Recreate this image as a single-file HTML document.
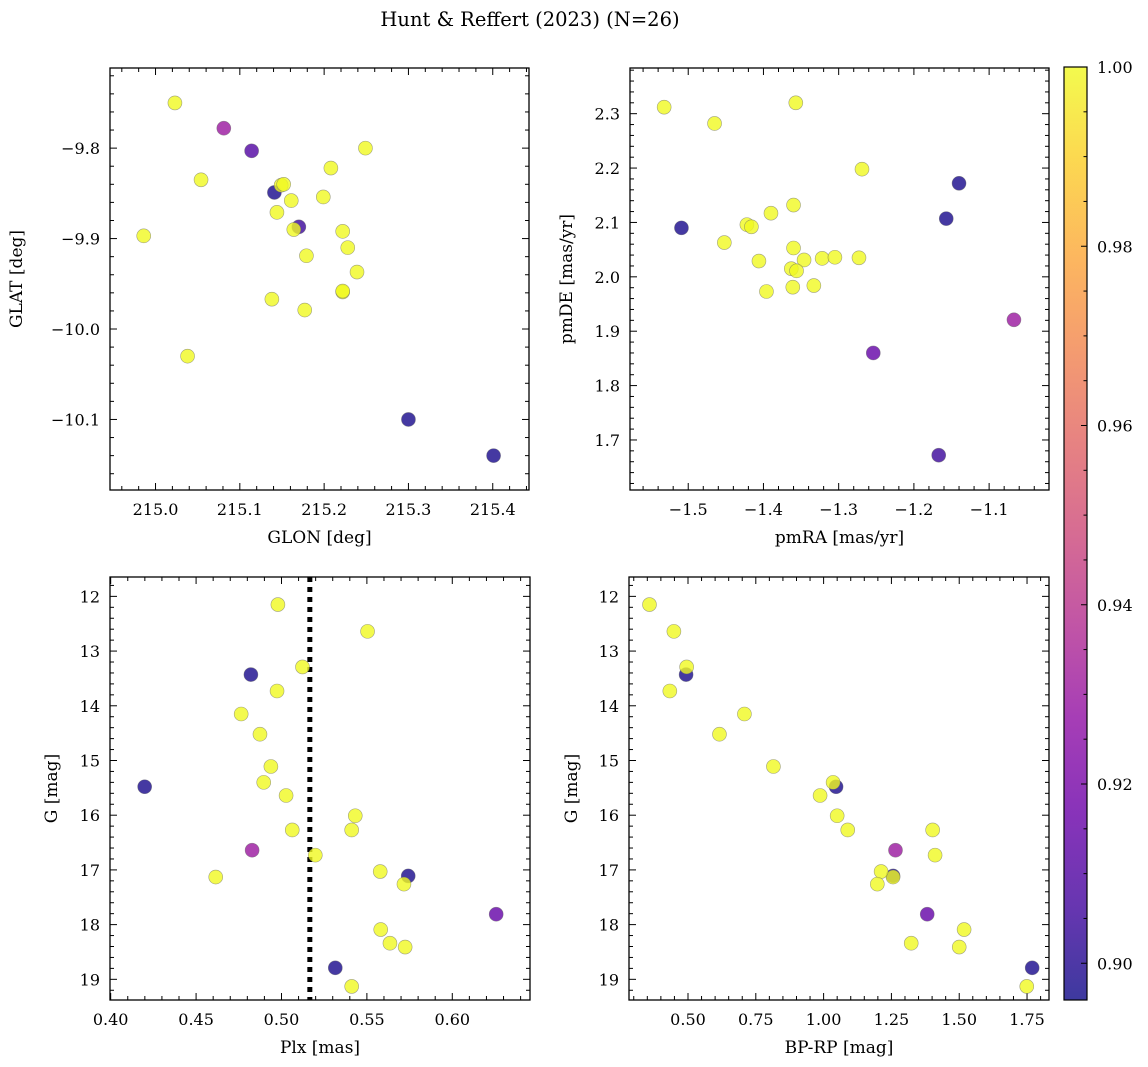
<!DOCTYPE html>
<html><head><meta charset="utf-8"><style>
html,body{margin:0;padding:0;background:#fff}
svg{display:block;font-family:"DejaVu Serif","Liberation Serif",serif}
</style></head><body>
<svg id="fig" width="1148" height="1067" viewBox="0 0 1148 1067" xmlns="http://www.w3.org/2000/svg">
<defs>
<linearGradient id="plasma" x1="0" y1="1" x2="0" y2="0">
<stop offset="0" stop-color="#0d0887"/><stop offset="0.1" stop-color="#41049d"/><stop offset="0.2" stop-color="#6a00a8"/><stop offset="0.3" stop-color="#8f0da4"/><stop offset="0.4" stop-color="#b12a90"/><stop offset="0.5" stop-color="#cc4778"/><stop offset="0.6" stop-color="#e16462"/><stop offset="0.7" stop-color="#f2844b"/><stop offset="0.8" stop-color="#fca636"/><stop offset="0.9" stop-color="#fcce25"/><stop offset="1" stop-color="#f0f921"/>
</linearGradient>
</defs>
<text x="530" y="26" font-size="19.5" text-anchor="middle">Hunt &amp; Reffert (2023) (N=26)</text>
</svg>
<script>
// Panel 1: sky positions
const glon = [215.023,215.081,215.114,215.054,215.141,215.149,215.152,215.161,215.208,215.249,215.199,215.144,215.170,215.164,214.986,215.222,215.228,215.179,215.239,215.222,215.222,215.138,215.177,215.038,215.300,215.401];
const glat = [-9.750,-9.778,-9.803,-9.835,-9.849,-9.841,-9.840,-9.858,-9.822,-9.800,-9.854,-9.871,-9.887,-9.890,-9.897,-9.892,-9.910,-9.919,-9.937,-9.959,-9.958,-9.967,-9.979,-10.030,-10.100,-10.140];
const probSky = [1,0.93,0.91,1,0.898,1,1,1,1,1,1,1,0.905,1,1,1,1,1,1,1,1,1,1,1,0.898,0.898];
// Panel 2: proper motions
const pmra = [-1.532,-1.357,-1.465,-1.269,-1.140,-1.157,-1.509,-1.360,-1.390,-1.422,-1.416,-1.452,-1.360,-1.406,-1.346,-1.322,-1.305,-1.273,-1.363,-1.356,-1.396,-1.361,-1.333,-1.067,-1.254,-1.167];
const pmde = [2.312,2.320,2.282,2.198,2.172,2.107,2.090,2.132,2.117,2.096,2.092,2.063,2.053,2.029,2.031,2.034,2.036,2.035,2.015,2.011,1.973,1.981,1.984,1.921,1.860,1.672];
const probPm = [1,1,1,1,0.898,0.898,0.898,1,1,1,1,1,1,1,1,1,1,1,1,1,1,1,1,0.93,0.915,0.905];
// Panels 3/4: parallax, magnitude, colour
const plx = [0.4979,0.5504,0.5123,0.4821,0.4974,0.4764,0.4874,0.4938,0.4199,0.4896,0.5027,0.5432,0.5063,0.5411,0.4828,0.5198,0.4615,0.5578,0.5742,0.5717,0.6257,0.5581,0.5635,0.5724,0.5315,0.5411];
const gmag = [12.15,12.64,13.29,13.43,13.73,14.15,14.52,15.11,15.48,15.40,15.64,16.01,16.27,16.27,16.64,16.73,17.13,17.03,17.11,17.26,17.81,18.09,18.34,18.41,18.79,19.13];
const bprp = [0.358,0.448,0.495,0.493,0.433,0.708,0.616,0.815,1.046,1.035,0.987,1.050,1.089,1.402,1.265,1.411,1.256,1.212,1.256,1.198,1.382,1.518,1.323,1.500,1.769,1.749];
const probCmd = [1,1,1,0.898,1,1,1,1,0.898,1,1,1,1,1,0.93,1,1,1,0.898,1,0.915,1,1,1,0.898,1];
const plxMean = [0.5166];
const cbTicks = [0.90,0.92,0.94,0.96,0.98,1.00];
const VMIN = 0.8959, VMAX = 1.0;

const NS = "http://www.w3.org/2000/svg";
const svg = document.getElementById('fig');
function el(tag, attrs, parent){ const e=document.createElementNS(NS,tag); for(const k in attrs) e.setAttribute(k,attrs[k]); (parent||svg).appendChild(e); return e; }

const stops=[[0,13,8,135],[0.1,65,4,157],[0.2,106,0,168],[0.3,143,13,164],[0.4,177,42,144],[0.5,204,71,120],[0.6,225,100,98],[0.7,242,132,75],[0.8,252,166,54],[0.9,252,206,37],[1,240,249,33]];
function plasma(v){
  let t=(v-VMIN)/(VMAX-VMIN); t=Math.max(0,Math.min(1,t));
  for(let i=1;i<stops.length;i++){ if(t<=stops[i][0]){ const a=stops[i-1],b=stops[i]; const f=(t-a[0])/(b[0]-a[0]);
    return 'rgb('+[1,2,3].map(j=>Math.round(a[j]+(b[j]-a[j])*f)).join(',')+')'; } }
  return 'rgb(240,249,33)';
}
function fmtMinus(s){ return s.replace('-','\u2212'); }

function panel(o){
  const g=el('g',{});
  
  
  const X0=o.box[0],Y0=o.box[1],X1=o.box[2],Y1=o.box[3];
  const sx=v=>X0+(v-o.xd[0])/(o.xd[1]-o.xd[0])*(X1-X0);
  const sy=v=>o.yinv? Y0+(v-o.yd[0])/(o.yd[1]-o.yd[0])*(Y1-Y0) : Y1-(v-o.yd[0])/(o.yd[1]-o.yd[0])*(Y1-Y0);
  const tg=el('g',{stroke:'#000','stroke-width':1},g);
  const xlo=Math.min(...o.xd),xhi=Math.max(...o.xd),ylo=Math.min(...o.yd),yhi=Math.max(...o.yd);
  for(let v=Math.ceil(xlo/o.xminor-1e-6)*o.xminor; v<=xhi+1e-9; v+=o.xminor){
    const x=sx(v); const major=Math.abs(v/o.xmajor-Math.round(v/o.xmajor))<1e-4; const L=major?7:4;
    el('line',{x1:x,y1:Y1,x2:x,y2:Y1-L},tg); el('line',{x1:x,y1:Y0,x2:x,y2:Y0+L},tg);
  }
  for(let v=Math.ceil(ylo/o.yminor-1e-6)*o.yminor; v<=yhi+1e-9; v+=o.yminor){
    const y=sy(v); const major=Math.abs(v/o.ymajor-Math.round(v/o.ymajor))<1e-4; const L=major?7:4;
    el('line',{x1:X0,y1:y,x2:X0+L,y2:y},tg); el('line',{x1:X1,y1:y,x2:X1-L,y2:y},tg);
  }
  o.xticks.forEach(t=>{ const tx=el('text',{x:sx(t),y:Y1+25,'font-size':16,'text-anchor':'middle'},g); tx.textContent=fmtMinus(t.toFixed(o.xdec));
      });
  o.yticks.forEach(t=>{ const ty=el('text',{x:X0-10,y:sy(t)+6,'font-size':16,'text-anchor':'end'},g); ty.textContent=fmtMinus(t.toFixed(o.ydec));
      });
  const xl=el('text',{x:(X0+X1)/2,y:Y1+53,'font-size':17,'text-anchor':'middle'},g); xl.textContent=o.xlabel;
   
  const yl=el('text',{x:0,y:0,'font-size':17,'text-anchor':'middle',transform:'translate('+o.ylx+','+((Y0+Y1)/2)+') rotate(-90)'},g); yl.textContent=o.ylabel;
   
  if(o.vline!==undefined){
    const ln=el('line',{x1:sx(o.vline),y1:Y0,x2:sx(o.vline),y2:Y1,stroke:'#000','stroke-width':5,'stroke-dasharray':'5,5'},g);
     
  }
  const order=o.xs.map((_,i)=>i).sort((a,b)=>(o.c[a]-o.c[b])||(a-b));
  order.forEach(i=>{
    const c=el('circle',{cx:sx(o.xs[i]),cy:sy(o.ys[i]),r:7,fill:plasma(o.c[i]),'fill-opacity':0.8,stroke:'#666','stroke-opacity':0.6,'stroke-width':0.6},g);
     
  });
  const fr=el('rect',{x:X0,y:Y0,width:X1-X0,height:Y1-Y0,fill:'none',stroke:'#000','stroke-width':1.3},g);
   
}

panel({name:'sky-panel',box:[110,68,529,490],xd:[214.946,215.443],yd:[-10.178,-9.7114],xs:glon,ys:glat,c:probSky,
  xmajor:0.1,xminor:0.02,ymajor:0.1,yminor:0.02,xticks:[215.0,215.1,215.2,215.3,215.4],xdec:1,yticks:[-9.8,-9.9,-10.0,-10.1],ydec:1,
  xlabel:'GLON [deg]',ylabel:'GLAT [deg]',ylx:22});
panel({name:'proper-motion-panel',box:[630,68,1049,490],xd:[-1.5774,-1.0204],yd:[1.608,2.384],xs:pmra,ys:pmde,c:probPm,
  xmajor:0.1,xminor:0.02,ymajor:0.1,yminor:0.02,xticks:[-1.5,-1.4,-1.3,-1.2,-1.1],xdec:1,yticks:[1.7,1.8,1.9,2.0,2.1,2.2,2.3],ydec:1,
  xlabel:'pmRA [mas/yr]',ylabel:'pmDE [mas/yr]',ylx:572});
panel({name:'parallax-magnitude-panel',box:[110,577,530,1000],xd:[0.3996,0.6455],yd:[11.646,19.378],yinv:true,xs:plx,ys:gmag,c:probCmd,
  xmajor:0.05,xminor:0.01,ymajor:1,yminor:0.2,xticks:[0.40,0.45,0.50,0.55,0.60],xdec:2,yticks:[12,13,14,15,16,17,18,19],ydec:0,
  xlabel:'Plx [mas]',ylabel:'G [mag]',ylx:57,vline:plxMean[0]});
panel({name:'color-magnitude-panel',box:[629,577,1049,1000],xd:[0.2825,1.831],yd:[11.646,19.378],yinv:true,xs:bprp,ys:gmag,c:probCmd,
  xmajor:0.25,xminor:0.05,ymajor:1,yminor:0.2,xticks:[0.50,0.75,1.00,1.25,1.50,1.75],xdec:2,yticks:[12,13,14,15,16,17,18,19],ydec:0,
  xlabel:'BP-RP [mag]',ylabel:'G [mag]',ylx:577});

const cb=el('g',{});


const CX0=1064,CX1=1087,CY0=67,CY1=1000;
const cbY=v=>CY1-(v-VMIN)/(VMAX-VMIN)*(CY1-CY0);
el('rect',{x:CX0,y:CY0,width:CX1-CX0,height:CY1-CY0,fill:'url(#plasma)','fill-opacity':0.8},cb);
for(let v=0.9; v<=1.0001; v+=0.005){ const y=cbY(v); const major=Math.abs(v*50-Math.round(v*50))<1e-3;
  el('line',{x1:CX1,y1:y,x2:CX1-(major?6:3.5),y2:y,stroke:'#000','stroke-width':1},cb); }
cbTicks.forEach(t=>{ const tx=el('text',{x:CX1+10,y:cbY(t)+6,'font-size':16},cb); tx.textContent=t.toFixed(2);
    });
el('rect',{x:CX0,y:CY0,width:CX1-CX0,height:CY1-CY0,fill:'none',stroke:'#000','stroke-width':1.2},cb);
</script>
</body></html>
